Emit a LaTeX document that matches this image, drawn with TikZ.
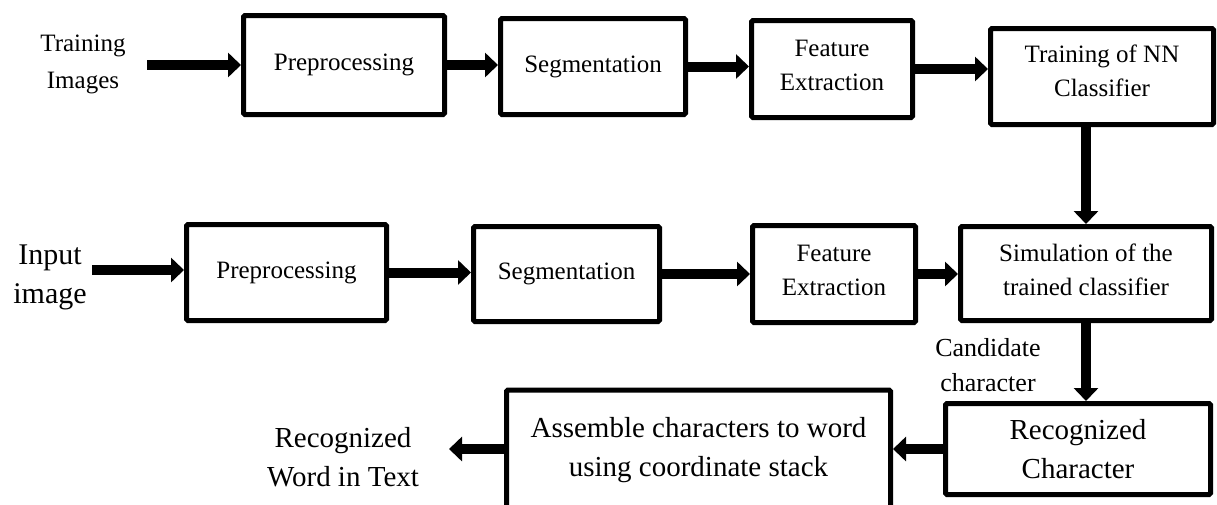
\documentclass[tikz,border=0pt]{standalone}
\usepackage{fontspec}
\setmainfont{Liberation Serif}
\usetikzlibrary{arrows.meta}
\tikzset{
  blk/.style={draw, line width=5pt, rounded corners=1.5pt, align=center, inner sep=0pt,
    font=\fontsize{25}{34}\selectfont},
  bigblk/.style={blk, font=\fontsize{29}{39}\selectfont},
  boxtext/.style={align=center, inner sep=0pt, font=\fontsize{25}{34}\selectfont},
  lbl/.style={align=center, inner sep=0pt, font=\fontsize{25}{37}\selectfont},
  biglbl/.style={align=center, inner sep=0pt, font=\fontsize{29}{39}\selectfont},
  arr/.style={line width=10pt, -{Triangle[width=24pt,length=13pt]}},
}
\begin{document}
\begin{tikzpicture}[x=1pt,y=-1pt]
\useasboundingbox (0,0) rectangle (1217,504);
% row 1
\node[blk, minimum width=201pt, minimum height=99pt] (prep1) at (344,65) {Preprocessing};
\node[blk, minimum width=185pt, minimum height=96pt] (seg1) at (593,66.5) {Segmentation};
\node[blk, minimum width=161pt, minimum height=97pt,
  label={[boxtext, yshift=4pt]center:{Feature\\Extraction}}] (fe1) at (832,69) {};
\node[blk, minimum width=223pt, minimum height=96pt,
  label={[boxtext, yshift=6pt]center:{Training of NN\\Classifier}}] (train) at (1102,76.5) {};
\node[lbl] (ti) at (83,64) {Training\\Images};
\coordinate (tistart) at (147,65);
% row 2
\node[blk, minimum width=200pt, minimum height=96pt] (prep2) at (286.5,272.5) {Preprocessing};
\node[blk, minimum width=186pt, minimum height=95pt] (seg2) at (566.5,274) {Segmentation};
\node[blk, minimum width=163pt, minimum height=97pt,
  label={[boxtext, yshift=4pt]center:{Feature\\Extraction}}] (fe2) at (834,274) {};
\node[blk, minimum width=251pt, minimum height=94pt,
  label={[boxtext, yshift=4pt]center:{Simulation of the\\trained classifier}}] (sim) at (1086,273.5) {};
\node[align=center, inner sep=0pt, font=\fontsize{30}{39}\selectfont] (inp) at (50,277) {Input\\image};
\coordinate (inpstart) at (92,270);
% row 3
\node[bigblk, minimum width=265pt, minimum height=91pt] (rc) at (1078,449) {Recognized\\Character};
\node[bigblk, minimum width=384pt, minimum height=120pt] (asm) at (698.5,450) {Assemble characters to word\\using coordinate stack};
\node[biglbl] (rw) at (343,457) {Recognized\\Word in Text};
\coordinate (rwend) at (449,449);
\node[align=center, inner sep=0pt, font=\fontsize{26}{35}\selectfont] (cand) at (988,365) {Candidate\\character};
% arrows
\draw[arr] (tistart) -- (tistart -| prep1.west);
\draw[arr] (prep1.east) -- (prep1.east -| seg1.west);
\draw[arr] (seg1.east) -- (seg1.east -| fe1.west);
\draw[arr] (fe1.east) -- (fe1.east -| train.west);
\draw[arr] (sim.north |- train.south) -- (sim.north);
\draw[arr] (inpstart) -- (inpstart -| prep2.west);
\draw[arr] (prep2.east) -- (prep2.east -| seg2.west);
\draw[arr] (seg2.east) -- (seg2.east -| fe2.west);
\draw[arr] (fe2.east) -- (fe2.east -| sim.west);
\draw[arr] (sim.south) -- (sim.south |- rc.north);
\draw[arr] (rc.west) -- (rc.west -| asm.east);
\draw[arr] (rwend -| asm.west) -- (rwend);
\end{tikzpicture}
\end{document}
